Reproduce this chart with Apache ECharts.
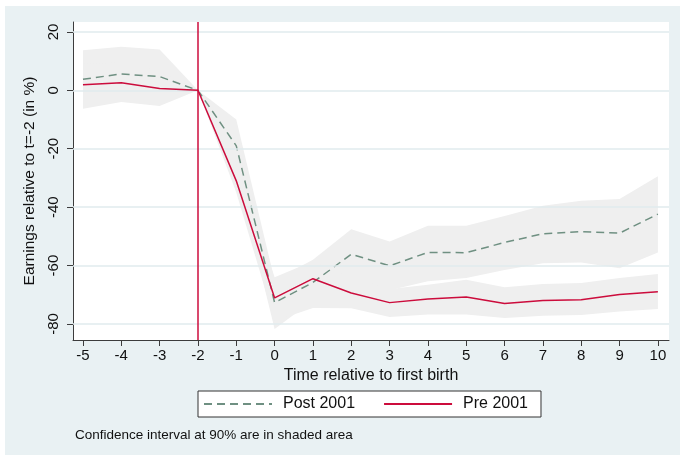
<!DOCTYPE html>
<html>
<head>
<meta charset="utf-8">
<script src="https://cdn.jsdelivr.net/npm/echarts@6/dist/echarts.min.js"></script>
<style>
  html, body { margin: 0; padding: 0; background: #ffffff; }
  #wrap { position: relative; width: 680px; height: 456px; background: #ffffff; }
  #bg { position: absolute; left: 5px; top: 6px; width: 675px; height: 449px; background: #e9f1f3; }
  #chart { position: absolute; left: 0; top: 0; width: 680px; height: 456px; }
</style>
</head>
<body>
<div id="wrap"><div id="bg"></div><div id="chart"></div></div>
<script>
// ---- data ----
const years = [-5, -4, -3, -2, -1, 0, 1, 2, 3, 4, 5, 6, 7, 8, 9, 10];
const postEst = [3.8, 5.6, 4.7, 0, -19.0, -72.7, -65.8, -56.1, -60.1, -55.5, -55.6, -52.1, -49.1, -48.4, -48.9, -42.4];
const preEst  = [1.9, 2.6, 0.6, 0, -31.0, -71.1, -64.5, -69.4, -72.7, -71.5, -70.8, -73.0, -72.0, -71.7, -69.9, -69.0];
const postHi  = [13.7, 14.9, 14.0, 0, -10.0, -65.0, -58.0, -47.6, -51.8, -46.4, -46.4, -43.0, -39.5, -37.8, -37.2, -29.4];
const postLo  = [-4.5, -2.5, -3.5, 0, -28.0, -81.7, -72.0, -64.9, -68.5, -65.4, -64.3, -61.5, -59.2, -59.0, -60.9, -55.5];
const preHi   = [9.0, 9.5, 6.5, 0, -25.0, -64.0, -58.5, -64.0, -68.0, -66.6, -64.9, -67.4, -66.3, -66.0, -64.3, -62.9];
const preLo   = [-6.3, -4.0, -5.4, 0, -35.0, -79.0, -74.5, -74.6, -77.6, -76.8, -76.8, -78.0, -77.2, -76.9, -75.7, -74.9];
const yTicks = [-80, -60, -40, -20, 0, 20];
const xTicks = years;
const eventYear = -2;
const seriesNames = ['Post 2001', 'Pre 2001'];
const xTitle = 'Time relative to first birth';
const yTitle = 'Earnings relative to t=-2 (in %)';
const noteText = 'Confidence interval at 90% are in shaded area';

// ---- chart ----
const FONT = '"Liberation Sans", Arial, Helvetica, sans-serif';
const RED = '#cc0c3c';
const GREEN = '#6f9082';
const BAND = '#efefef';
const AXIS = '#3c3c3c';

const chart = echarts.init(document.getElementById('chart'), null, { renderer: 'canvas' });

function pairs(vals) { return years.map((x, i) => [x, vals[i]]); }

const option = {
  animation: false,
  backgroundColor: 'transparent',
  textStyle: { fontFamily: FONT },
  grid: {
    left: 73, top: 22, right: 11, bottom: 116,
    show: true, backgroundColor: '#ffffff', borderWidth: 0,
    containLabel: false
  },
  xAxis: {
    type: 'value',
    min: -5.26, max: 10.29,
    name: xTitle,
    nameLocation: 'middle',
    nameGap: 25,
    nameTextStyle: { fontSize: 16, color: '#111', fontFamily: FONT },
    axisLine: { show: true, onZero: false, lineStyle: { color: AXIS, width: 1 } },
    axisTick: { show: true, length: 6, lineStyle: { color: AXIS }, customValues: xTicks },
    axisLabel: { show: true, margin: 8, fontSize: 15, color: '#111', fontFamily: FONT, customValues: xTicks },
    splitLine: { show: false }
  },
  yAxis: {
    type: 'value',
    min: -85.5, max: 23.4,
    name: yTitle,
    nameLocation: 'middle',
    nameGap: 29,
    nameRotate: 90,
    nameTextStyle: { fontSize: 15.5, color: '#111', fontFamily: FONT },
    axisLine: { show: true, onZero: false, lineStyle: { color: AXIS, width: 1 } },
    axisTick: { show: true, length: 6, lineStyle: { color: AXIS }, customValues: yTicks },
    axisLabel: { show: true, rotate: 90, margin: 12, fontSize: 15, color: '#111', fontFamily: FONT, customValues: yTicks },
    splitLine: { show: false }
  },
  legend: {
    data: seriesNames,
    left: 198, top: 391,
    orient: 'horizontal',
    itemWidth: 68, itemHeight: 14, itemGap: 28,
    padding: [5, 13, 5, 5],
    borderColor: '#333', borderWidth: 1, borderRadius: 0,
    backgroundColor: '#ffffff',
    selectedMode: false,
    itemStyle: { opacity: 0 },
    lineStyle: { width: 2 },
    textStyle: { fontSize: 16, color: '#111', fontFamily: FONT, padding: [0, 0, 0, 6] }
  },
  graphic: [{
    type: 'text', left: 75, top: 428,
    style: { text: noteText, font: '13.5px ' + FONT, fill: '#111' }
  }],
  series: [
    {
      type: 'line', data: [], silent: true, z: 1,
      markLine: {
        silent: true, symbol: ['none', 'none'], label: { show: false },
        lineStyle: { color: '#e1ebee', width: 1.5, type: 'solid' },
        data: yTicks.map(v => ({ yAxis: v }))
      }
    },
    {
      type: 'custom', silent: true, z: 2,
      data: [[eventYear, 0]],
      renderItem: function (params, api) {
        const children = [];
        [[postHi, postLo], [preHi, preLo]].forEach(function (b) {
          const hi = b[0], lo = b[1];
          const pts = [];
          for (let i = 0; i < years.length; i++) pts.push(api.coord([years[i], hi[i]]));
          for (let i = years.length - 1; i >= 0; i--) pts.push(api.coord([years[i], lo[i]]));
          children.push({ type: 'polygon', shape: { points: pts }, style: { fill: BAND, stroke: null } });
        });
        return { type: 'group', children: children };
      }
    },
    {
      name: seriesNames[0], type: 'line', z: 4,
      data: pairs(postEst), symbol: 'none', showSymbol: false,
      lineStyle: { color: GREEN, width: 1.5, type: [8, 5] },
      itemStyle: { color: GREEN }
    },
    {
      name: seriesNames[1], type: 'line', z: 5,
      data: pairs(preEst), symbol: 'none', showSymbol: false,
      lineStyle: { color: RED, width: 1.5, type: 'solid' },
      itemStyle: { color: RED },
      markLine: {
        silent: true, symbol: ['none', 'none'], label: { show: false },
        lineStyle: { color: RED, width: 1.5, type: 'solid' },
        data: [{ xAxis: eventYear }]
      }
    }
  ]
};
chart.setOption(option);
</script>
</body>
</html>
